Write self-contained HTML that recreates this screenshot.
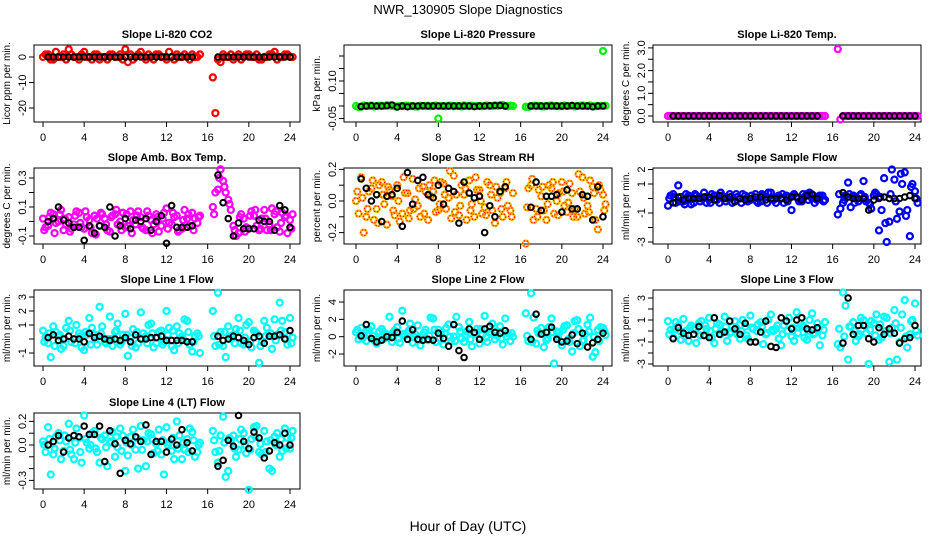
<!DOCTYPE html>
<html><head><meta charset="utf-8">
<style>
html,body{margin:0;padding:0;background:#fff;}
svg{display:block;font-family:"Liberation Sans",Arial,sans-serif;}
</style></head>
<body>
<svg id="chart" width="936" height="540" viewBox="0 0 936 540" xmlns="http://www.w3.org/2000/svg">
<rect x="0" y="0" width="936" height="540" fill="#fff"/>
<text x="468" y="14" text-anchor="middle" font-size="13">NWR_130905  Slope Diagnostics</text>
<text x="468" y="531" text-anchor="middle" font-size="14">Hour of Day (UTC)</text>
</svg>
<script>
// shared hour categories (two segments)
const hours = [0,0.5,1,1.5,2,2.5,3,3.5,4,4.5,5,5.5,6,6.5,7,7.5,8,8.5,9,9.5,10,10.5,11,11.5,12,12.5,13,13.5,14,14.5,15,
 16.5,17,17.5,18,18.5,19,19.5,20,20.5,21,21.5,22,22.5,23,23.5,24];
const xTicks = [0,4,8,12,16,20,24];

// P1 CO2
const co2A = [0,1,-1,0,1,3,0,-1,2,0,1,-1,0,1,0,1,3,1,0,2,-1,0,1,0,-1,0,1,0,0,1,0, -8,-1,1,0,-1,1,0,1,0,-1,0,1,2,0,1,0];
const co2B = [1,-1,2,0,-1,1,0,1,0,-1,1,0,-1,1,0,-1,-2,-1,1,0,1,-1,1,0,2,-1,0,1,-1,0,1, -22,-2,0,1,0,-1,1,0,1,-1,0,1,-1,0,1,0];
const co2K = [null,0,0,0,0,0,0,0,0,0,0,0,0,0,0,0,0,0,0,0,0,0,0,0,0,0,0,0,0,0,null, null,0,0,0,0,0,0,0,0,0,0,0,0,0,0,0];
// P2 pressure
const presA = [0,-0.003,0,0.002,0,0.001,0.003,0,-0.002,0,0.001,0,-0.002,0,0.001,0,-0.05,0,0.001,-0.001,0,0.002,0,-0.001,0,0.001,0,0.002,0.003,0,0.001, -0.003,0,0.001,-0.001,0,0.002,0,-0.001,0,0.001,0,0.002,0,-0.001,0,0.22];
const presB = [-0.004,0.002,0,-0.002,0.001,0,0.002,-0.001,0,0.001,0,-0.002,0.001,0,-0.001,0.002,0,-0.001,0.001,0,-0.002,0,0.001,0,-0.001,0.002,0,0.001,0.004,-0.001,0, -0.004,0.001,0,-0.002,0.001,0,-0.001,0.002,0,-0.002,0.001,0,0.002,-0.001,0,0.001];
const presK = [null,-0.002,0,0.001,0,0,0.001,0.004,-0.004,0,-0.003,0,0,0.001,0,0,0,0,0,0,0,0,0,-0.002,0,0,0.001,0.002,0.002,0,null, null,0,0,0,0,0,0,0,0,0.002,0,0,0,-0.003,0,0];
// P3 Li-820 temp
const ltA = [0,0,0,0,0,0,0,0,0,0,0,0,0,0,0,0,0,0,0,0,0,0,0,0,0,0,0,0,0,0,0, 2.95,0,0,0,0,0,0,0,0,0,0,0,0,0,0,0];
const ltB = [0,0,0,0,0,0,0,0,0,0,0,0,0,0,0,0,0,0,0,0,0,0,0,0,0,0,0,0,0,0,0, -0.15,0,0,0,0,0,0,0,0,0,0,0,0,0,0,0];
const ltK = [null,0,0,0,0,0,0,0,0,0,0,0,0,0,0,0,0,0,0,0,0,0,0,0,0,0,0,0,0,0,null, null,0,0,0,0,0,0,0,0,0,0,0,0,0,0,0];
// P4 amb box temp
const abA = [0.02,-0.03,0.05,0.0,-0.06,0.03,-0.02,0.06,-0.05,0.01,0.04,-0.03,0.02,-0.07,0.05,0.0,-0.04,0.07,-0.02,0.03,-0.06,0.01,0.05,-0.03,0.09,-0.02,0.04,-0.05,0.02,0.06,-0.01, 0.1,0.22,0.28,0.15,-0.03,-0.08,0.02,-0.05,0.04,-0.06,0.08,-0.02,0.05,-0.07,0.03,0.01];
const abB = [-0.04,0.06,-0.01,0.08,-0.02,-0.05,0.07,-0.04,0.03,-0.08,0.02,0.05,-0.06,0.04,-0.02,0.06,-0.03,0.01,0.07,-0.05,0.04,-0.02,-0.07,0.06,-0.01,0.03,-0.06,0.08,-0.03,0.02,0.04, 0.2,0.36,0.2,0.08,-0.1,0.05,-0.04,0.07,-0.03,0.02,-0.06,0.09,-0.04,0.06,-0.08,0.05];
const abC = [-0.06,0.03,-0.08,0.05,0.02,-0.07,0.04,-0.01,0.07,-0.04,-0.09,0.06,-0.02,0.03,0.08,-0.06,0.05,-0.08,0.04,-0.04,0.07,-0.08,0.03,0.02,-0.05,0.06,-0.07,0.01,0.05,-0.06,0.03, 0.05,0.3,0.24,0.12,-0.06,0.03,-0.07,0.04,0.08,-0.05,0.02,-0.06,0.07,-0.01,0.04,-0.05];
const abK = [null,0.0,0.02,0.1,0.01,-0.01,-0.04,-0.04,-0.13,-0.03,-0.08,-0.03,-0.04,0.1,-0.1,-0.03,0.02,-0.05,0.01,0,0.02,-0.06,0,0.04,-0.15,0.11,-0.04,-0.04,-0.04,-0.03,null, null,0.32,0.13,0.02,-0.1,-0.01,-0.05,-0.05,-0.05,0.01,0,0,-0.06,0.11,0.08,-0.04];
// P5 gas stream RH
const rhA = [0.0,0.15,-0.1,0.08,-0.05,0.12,-0.15,0.03,0.1,-0.08,0.05,0.14,-0.03,0.09,-0.12,0.06,-0.06,0.11,0.02,0.16,-0.09,0.04,0.13,-0.1,0.07,-0.04,0.1,-0.14,0.05,0.08,-0.06, -0.27,0.1,-0.05,0.03,-0.12,0.08,0.0,0.12,-0.07,0.05,-0.1,0.15,-0.03,0.09,-0.18,0.04];
const rhB = [-0.08,-0.2,0.06,-0.12,0.1,-0.02,0.07,-0.09,-0.13,0.05,-0.06,0.01,-0.1,0.06,0.03,-0.07,0.12,-0.05,-0.11,0.04,0.1,-0.12,-0.02,0.07,-0.08,0.12,-0.06,0.02,-0.1,-0.03,0.05, 0.08,-0.12,0.07,-0.06,0.1,-0.08,0.05,-0.03,0.11,-0.05,0.06,-0.08,0.13,-0.12,0.07,-0.02];
const rhC = [0.06,0.02,-0.05,0.13,-0.14,0.04,0.09,-0.06,0.0,0.15,-0.11,-0.05,0.08,-0.08,0.1,0.13,-0.02,0.04,0.19,-0.07,-0.03,0.08,-0.06,0.15,0.0,-0.09,0.04,0.09,-0.05,0.12,-0.1, -0.04,0.14,-0.1,0.09,-0.02,0.12,-0.09,0.06,-0.01,-0.1,0.17,0.02,-0.07,0.05,0.1,-0.06];
const rhK = [null,0.14,0.08,0.0,0.04,-0.13,0.03,0.04,0.08,-0.16,0.18,-0.02,0.13,0.15,0.04,0.02,0.1,-0.02,0.08,0.06,-0.14,0.12,0.05,0.02,0.03,-0.2,-0.03,-0.1,0.06,0.09,null, null,-0.04,0.12,-0.06,0.03,0.03,0.04,-0.07,0.07,-0.05,-0.05,0.04,0.03,-0.12,0.09,-0.1];
// P6 sample flow
const sfA = [-0.5,0.3,0.9,-0.2,0.2,-0.3,0.1,0.4,-0.1,0.2,-0.3,0.1,0.3,-0.2,0.0,0.2,-0.1,0.3,-0.2,0.1,0.4,-0.3,0.0,0.2,-0.8,0.1,-0.2,0.3,0.0,-0.1,0.2, -1.1,-0.3,1.1,0.2,-0.2,1.2,-0.3,0.2,-2.2,1.4,-1.6,1.3,-0.9,1.8,-2.6,0.5];
const sfB = [0.2,-0.3,0.1,0.3,-0.4,0.2,0.0,-0.3,0.3,-0.1,0.2,0.0,-0.3,0.1,0.3,-0.2,0.0,-0.3,0.2,0.4,-0.1,0.2,-0.3,0.1,0.3,-0.2,0.1,0.4,-0.3,0.2,-0.1, -0.7,0.2,-0.6,0.1,0.3,-0.2,-0.7,0.3,-0.8,-3.0,2.0,-1.4,1.0,-0.8,1.0,-0.3];
const sfC = [0.0,0.1,-0.2,-0.4,0.1,0.3,-0.2,0.1,-0.3,0.2,0.4,-0.2,0.1,0.3,-0.3,0.0,0.2,-0.2,0.3,-0.3,0.0,0.1,0.3,-0.2,0.2,0.0,0.3,-0.1,0.2,0.1,-0.2, 0.3,-0.1,0.3,-0.3,0.2,0.1,-0.4,0.4,0.1,-1.7,0.3,-0.2,1.7,-1.2,0.8,0.0];
const sfK = [null,-0.3,0.1,-0.1,0.0,0.0,0.0,0.1,0.1,-0.1,0.2,0.0,0.1,-0.2,0.0,-0.1,0.0,0.1,0.1,-0.1,0.0,0.0,0.0,-0.1,0.1,0.1,-0.1,0.2,0.3,0.0,null, null,0.4,0.1,0.0,0.0,0.0,-0.8,-0.1,0.0,0.1,0.0,0.0,0.0,0.1,0.2,0.0];
// P7 line 1 flow
const l1A = [0.6,-0.3,0.9,0.2,-0.5,1.3,0.0,0.4,-0.8,1.5,0.3,2.3,-0.2,1.6,0.5,-0.4,1.8,0.1,-0.6,1.9,0.2,1.1,-0.3,0.6,2.0,-0.5,0.9,0.2,1.3,-0.9,0.4, 2.0,3.3,-0.5,0.9,0.3,1.5,-0.4,1.2,0.6,-1.7,1.3,0.2,1.4,2.6,0.5,1.5];
const l1B = [0.1,-1.3,0.5,-0.7,0.8,-0.2,1.0,-0.6,0.3,0.8,-0.4,0.9,0.0,-0.5,1.1,0.3,-1.2,0.7,-0.3,0.4,1.0,-0.6,0.5,-0.2,0.8,-0.8,0.4,1.4,-0.4,0.2,-1.0, -0.5,0.5,-1.3,0.2,0.7,-0.3,1.0,-0.6,0.4,-0.2,0.8,-0.7,0.3,1.3,-0.4,0.1];
const l1C = [-0.2,0.4,-0.5,0.3,0.0,0.6,-0.3,0.2,0.5,-0.4,0.1,0.4,-0.3,0.0,0.6,-0.2,0.3,-0.5,0.5,0.0,-0.3,0.4,0.1,-0.4,0.3,0.6,-0.3,0.0,0.5,-0.2,0.2, 0.2,-0.4,0.5,0.0,-0.3,0.6,0.1,-0.2,0.5,-0.5,0.2,0.4,-0.1,0.6,0.0,-0.3];
const l1K = [null,0.1,0.3,-0.1,0.0,0.2,0.0,0.0,-0.2,0.4,0.1,0.2,0.0,-0.1,0.0,-0.1,0.1,-0.2,0.3,0.0,0.0,0.1,0.1,0.2,-0.1,-0.1,-0.1,-0.1,-0.2,-0.2,null, null,0.2,-0.1,0.0,0.2,0.1,-0.1,-0.4,0.1,0.2,-0.3,0.2,0.2,0.3,0.0,0.6];
// P8 line 2 flow
const l2A = [0.5,1.0,-0.5,1.2,-0.8,0.9,0.3,-0.6,1.1,3.0,0.4,-0.7,1.3,0.2,-0.4,2.1,0.8,-0.9,1.4,0.0,1.1,-0.6,1.7,0.3,-0.8,2.4,0.5,-0.3,1.2,2.1,-0.5, 2.7,5.0,-0.8,1.0,-0.4,2.1,0.6,-1.0,1.3,-1.7,1.9,-0.5,1.4,-2.3,0.8,1.0];
const l2B = [-0.3,0.2,0.8,-0.4,0.6,-0.2,2.3,0.7,-0.7,0.1,1.5,0.3,-1.0,0.8,2.2,-0.6,0.4,1.0,-0.5,2.3,-0.2,0.6,-1.1,0.9,0.2,-0.6,1.5,0.1,-0.9,0.4,0.0, -0.5,2.2,0.4,-1.2,1.1,-3.1,0.5,1.2,-0.6,1.8,-1.1,0.3,2.2,-1.8,1.1,0.2];
const l2C = [0.8,-0.2,0.4,0.1,-0.3,0.6,0.0,0.5,-0.2,0.3,0.7,0.0,-0.4,0.5,0.1,0.8,-0.2,0.4,0.0,-0.5,0.6,0.2,-0.3,0.4,0.9,-0.1,0.3,0.6,-0.2,0.0,0.4, 0.1,-0.6,0.7,0.3,-0.2,0.5,0.0,0.8,-0.3,0.4,0.9,-0.4,0.6,0.0,-0.5,0.7];
const l2K = [null,0.1,1.4,-0.2,-0.6,-0.4,0.0,-0.1,0.5,1.8,-0.3,0.8,-0.3,-0.4,-0.3,-0.4,0.4,-0.2,-1.1,1.4,-1.6,-2.4,0.9,0.5,-0.3,0.9,1.2,0.5,0.4,0.7,null, null,-0.3,2.6,0.3,0.5,1.1,-0.3,-0.6,-0.5,0.2,-0.8,0.4,-1.2,-0.7,-0.3,0.4];
// P9 line 3 flow
const l3A = [0.9,-0.6,0.5,1.1,-0.9,0.3,0.7,-0.4,1.2,-1.1,0.6,1.3,-0.2,0.9,-0.7,0.4,1.4,-1.0,0.8,-0.3,1.5,0.2,-1.3,0.9,-0.5,1.7,0.4,-0.8,1.6,0.7,-0.4, -1.2,3.5,-2.6,0.8,-0.5,1.0,-3.0,0.7,-0.8,1.3,-2.8,1.9,-1.0,2.8,-0.3,2.5];
const l3B = [0.1,0.8,-0.8,0.0,0.5,-1.1,0.9,0.2,-0.6,0.7,0.0,-0.9,0.4,-0.3,1.0,-0.7,0.2,0.6,-1.2,1.0,0.0,-0.7,0.5,1.2,-0.9,0.3,-0.6,1.0,-0.2,-1.3,0.8, -1.5,2.3,0.4,-0.9,1.2,-0.2,0.9,1.5,-0.6,1.2,0.3,-2.6,1.5,-1.5,1.0,-0.4];
const l3C = [-0.3,0.2,0.0,-0.5,0.3,0.1,-0.4,0.5,0.0,0.2,-0.3,0.4,-0.1,0.3,0.0,-0.4,0.3,0.0,0.4,-0.2,0.1,0.5,-0.3,0.0,0.3,-0.2,0.5,0.0,-0.3,0.2,0.1, 0.2,-0.5,0.4,0.0,-0.3,0.5,0.1,-0.4,0.6,0.0,-0.2,0.7,0.3,-0.5,0.9,0.0];
const l3K = [null,-0.7,0.3,-0.2,-0.4,-0.3,0.4,-0.4,-0.6,1.2,-0.3,-0.1,0.9,0.2,-0.3,0.7,-1.0,-1.0,-0.1,0.9,-1.4,-1.5,1.2,0.9,0.2,1.0,1.2,0.2,0.1,0.3,null, null,-1.1,3.0,-0.3,0.5,0.5,-0.7,-1.0,0.3,-0.3,0.2,-0.2,-1.1,-0.7,-0.6,0.5];
// P10 line 4 (LT) flow
const l4A = [0.03,0.15,-0.08,0.1,-0.05,0.18,-0.12,0.06,0.25,-0.03,0.12,-0.15,0.08,0.02,-0.1,0.14,-0.22,0.07,-0.04,0.16,-0.18,0.09,0.01,-0.08,0.15,-0.05,0.2,-0.12,0.05,0.11,-0.06, 0.12,-0.15,0.24,-0.22,0.08,-0.04,0.1,-0.38,0.15,-0.06,0.12,-0.2,0.07,-0.1,0.14,-0.03];
const l4B = [-0.06,-0.25,0.07,-0.12,0.03,-0.08,0.14,-0.15,0.02,0.1,-0.06,0.05,-0.18,0.11,-0.02,0.08,-0.09,0.13,-0.2,0.04,0.1,-0.07,0.13,-0.25,0.02,-0.12,0.08,-0.04,0.14,-0.1,0.02, -0.06,0.08,-0.27,0.04,-0.1,0.13,-0.07,0.05,0.16,-0.08,0.03,-0.22,0.1,-0.05,0.06,0.12];
const l4C = [0.0,0.05,-0.03,0.04,0.08,-0.04,0.02,-0.06,0.05,0.0,-0.03,0.06,-0.02,0.03,0.07,-0.05,0.02,0.0,0.06,-0.04,0.03,0.05,-0.05,0.04,0.0,0.06,-0.03,0.02,-0.06,0.04,0.0, 0.04,-0.05,0.02,0.06,-0.03,0.05,0.0,-0.04,0.07,0.01,-0.06,0.04,0.0,0.05,-0.03,0.06];
const l4K = [null,0.0,0.03,0.08,-0.06,0.06,0.08,0.07,0.16,0.09,0.09,0.16,-0.14,0.12,0.01,-0.24,0.04,0.01,0.07,0.03,0.17,-0.08,0.03,0.03,-0.06,0.05,0.0,0.13,0.02,-0.05,null, null,-0.18,-0.13,0.04,-0.01,0.25,0.03,-0.03,0.11,0.06,-0.11,-0.05,0.02,0.0,0.1,0.0];

// y tick values / labels per panel
const co2Ticks=[-20,-10,0], co2Labels=['-20','-10','0'];
const presTicks=[-0.05,0,0.05,0.1,0.15,0.2], presLabels=['-0.05','','','0.10','',''];
const ltTicks=[0,0.5,1,1.5,2,2.5,3], ltLabels=['0.0','','1.0','','2.0','','3.0'];
const abTicks=[-0.1,0,0.1,0.2,0.3], abLabels=['-0.1','','0.1','','0.3'];
const rhTicks=[-0.2,-0.1,0,0.1,0.2], rhLabels=['-0.2','','0.0','','0.2'];
const sfTicks=[-3,-2,-1,0,1,2], sfLabels=['-3','','-1','','1','2'];
const l1Ticks=[-1,0,1,2,3], l1Labels=['-1','','1','2','3'];
const l2Ticks=[-2,0,2,4], l2Labels=['-2','0','2','4'];
const l3Ticks=[-3,-2,-1,0,1,2,3], l3Labels=['-3','','-1','','1','','3'];
const l4Ticks=[-0.3,-0.2,-0.1,0,0.1,0.2], l4Labels=['-0.3','','','0.0','','0.2'];

const NS='http://www.w3.org/2000/svg';
const svg=document.getElementById('chart');
const cols=[{l:34,r:300,x0:43,x24:290},{l:344,r:612,x0:356,x24:603},{l:653,r:921,x0:668,x24:915}];
const rows=[{t:45,b:122},{t:168,b:244},{t:290,b:366},{t:413,b:489}];

const panels=[
 {key:'co2',title:'Slope Li-820 CO2',ylab:'Licor ppm per min.',c:0,r:0,px0:57,ppu:2.55,color:'#ff0000',A:co2A,B:co2B,C:null,K:co2K,ticks:co2Ticks,labels:co2Labels},
 {key:'pressure',title:'Slope Li-820 Pressure',ylab:'kPa per min.',c:1,r:0,px0:106,ppu:250,color:'#00ee00',A:presA,B:presB,C:null,K:presK,ticks:presTicks,labels:presLabels},
 {key:'li820-temp',title:'Slope Li-820 Temp.',ylab:'degrees C per min.',c:2,r:0,px0:116,ppu:22.7,color:'#ff00ff',A:ltA,B:ltB,C:null,K:ltK,ticks:ltTicks,labels:ltLabels},
 {key:'amb-box-temp',title:'Slope Amb. Box Temp.',ylab:'degrees C per min.',c:0,r:1,px0:221.5,ppu:145,color:'#ff00ff',A:abA,B:abB,C:abC,K:abK,ticks:abTicks,labels:abLabels},
 {key:'gas-stream-rh',title:'Slope Gas Stream RH',ylab:'percent per min.',c:1,r:1,px0:201,ppu:158,color:'#ffb000',A:rhA,B:rhB,C:rhC,K:rhK,ticks:rhTicks,labels:rhLabels,dot:'#ff0000'},
 {key:'sample-flow',title:'Slope Sample Flow',ylab:'ml/min per min.',c:2,r:1,px0:198.5,ppu:14.5,color:'#0000ff',A:sfA,B:sfB,C:sfC,K:sfK,ticks:sfTicks,labels:sfLabels},
 {key:'line1-flow',title:'Slope Line 1 Flow',ylab:'ml/min per min.',c:0,r:2,px0:339,ppu:14,color:'#00ffff',A:l1A,B:l1B,C:l1C,K:l1K,ticks:l1Ticks,labels:l1Labels},
 {key:'line2-flow',title:'Slope Line 2 Flow',ylab:'ml/min per min.',c:1,r:2,px0:336.7,ppu:8.67,color:'#00ffff',A:l2A,B:l2B,C:l2C,K:l2K,ticks:l2Ticks,labels:l2Labels},
 {key:'line3-flow',title:'Slope Line 3 Flow',ylab:'ml/min per min.',c:2,r:2,px0:331,ppu:11,color:'#00ffff',A:l3A,B:l3B,C:l3C,K:l3K,ticks:l3Ticks,labels:l3Labels},
 {key:'line4-flow',title:'Slope Line 4 (LT) Flow',ylab:'ml/min per min.',c:0,r:3,px0:445,ppu:118,color:'#00ffff',A:l4A,B:l4B,C:l4C,K:l4K,ticks:l4Ticks,labels:l4Labels}
];

function mk(tag,attrs,parent){const e=document.createElementNS(NS,tag);for(const k in attrs)e.setAttribute(k,attrs[k]);parent.appendChild(e);return e;}

panels.forEach(p=>{
 const col=cols[p.c], row=rows[p.r];
 const xs=h=>col.x0+(h/24)*(col.x24-col.x0);
 const ys=v=>p.px0-v*p.ppu;
 const g=mk('g',{},svg);
 
 
 const title=mk('text',{x:(col.l+col.r)/2,y:row.t-7,'text-anchor':'middle','font-size':'11','font-weight':'bold'},g);
 title.textContent=p.title;
 
 
 const yl=mk('text',{x:0,y:0,'text-anchor':'middle','font-size':'10',transform:`translate(${col.l-24},${(row.t+row.b)/2}) rotate(-90)`},g);
 yl.textContent=p.ylab;
 
 
 const box=mk('rect',{x:col.l,y:row.t,width:col.r-col.l,height:row.b-row.t,fill:'none',stroke:'#000','stroke-width':'1'},g);
 
 
 xTicks.forEach(t=>{
  const x=xs(t);
  const tk=mk('line',{x1:x,x2:x,y1:row.b,y2:row.b+5,stroke:'#000'},g);
  
  
  const tl=mk('text',{x:x,y:row.b+19,'text-anchor':'middle','font-size':'11'},g);
  tl.textContent=String(t);
  
  
 });
 p.ticks.forEach((t,i)=>{
  const y=ys(t);
  const tk=mk('line',{x1:col.l-5,x2:col.l,y1:y,y2:y,stroke:'#000'},g);
  
  
  if(p.labels[i]){
   const tl=mk('text',{x:0,y:0,'text-anchor':'middle','font-size':'11',transform:`translate(${col.l-8},${y}) rotate(-90)`},g);
   tl.textContent=p.labels[i];
   
   
  }
 });
 const series=[[p.A,0],[p.B,0.25],[p.C,0.125]];
 series.forEach(([arr,off])=>{
  if(!arr)return;
  arr.forEach((v,i)=>{
   if(v===null)return;
   const c=mk('circle',{cx:xs(hours[i]+off),cy:ys(v),r:3,fill:'none',stroke:p.color,'stroke-width':'2.3'},g);
   
   
   if(p.dot){
    const d=mk('circle',{cx:xs(hours[i]+off),cy:ys(v),r:3,fill:'none',stroke:p.dot,'stroke-width':'1.2','stroke-dasharray':'1 2'},g);
    
    
   }
  });
 });
 p.K.forEach((v,i)=>{
  if(v===null)return;
  const c=mk('circle',{cx:xs(hours[i]),cy:ys(v),r:2.8,fill:'none',stroke:'#000','stroke-width':'2'},g);
  
  
 });
});
</script>
</body></html>
